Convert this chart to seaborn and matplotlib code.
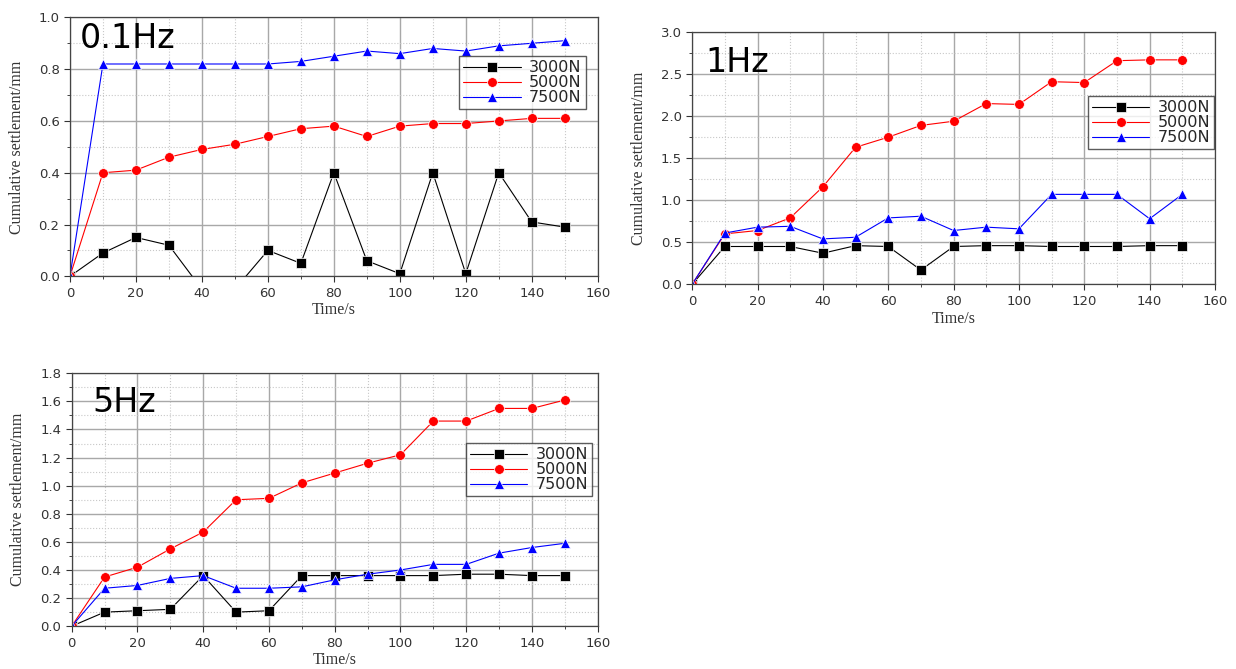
import numpy as np
import pandas as pd
import matplotlib
matplotlib.use("Agg")
import matplotlib.pyplot as plt
from matplotlib.ticker import MultipleLocator, FormatStrFormatter
import seaborn as sns

time_s = [0, 10, 20, 30, 40, 50, 60, 70, 80, 90, 100, 110, 120, 130, 140, 150]
loads = ["3000N", "5000N", "7500N"]

hz01_3000 = [0, 0.09, 0.15, 0.12, -0.05, -0.05, 0.10, 0.05, 0.40, 0.06, 0.01, 0.40, 0.01, 0.40, 0.21, 0.19]
hz01_5000 = [0, 0.40, 0.41, 0.46, 0.49, 0.51, 0.54, 0.57, 0.58, 0.54, 0.58, 0.59, 0.59, 0.60, 0.61, 0.61]
hz01_7500 = [0, 0.82, 0.82, 0.82, 0.82, 0.82, 0.82, 0.83, 0.85, 0.87, 0.86, 0.88, 0.87, 0.89, 0.90, 0.91]

hz1_3000 = [0, 0.45, 0.45, 0.45, 0.37, 0.46, 0.45, 0.17, 0.45, 0.46, 0.46, 0.45, 0.45, 0.45, 0.46, 0.46]
hz1_5000 = [0, 0.60, 0.64, 0.79, 1.16, 1.63, 1.75, 1.89, 1.94, 2.15, 2.14, 2.41, 2.40, 2.66, 2.67, 2.67]
hz1_7500 = [0, 0.61, 0.68, 0.69, 0.54, 0.56, 0.79, 0.81, 0.64, 0.68, 0.66, 1.07, 1.07, 1.07, 0.78, 1.07]

hz5_3000 = [0, 0.10, 0.11, 0.12, 0.36, 0.10, 0.11, 0.36, 0.36, 0.36, 0.36, 0.36, 0.37, 0.37, 0.36, 0.36]
hz5_5000 = [0, 0.35, 0.42, 0.55, 0.67, 0.90, 0.91, 1.02, 1.09, 1.16, 1.22, 1.46, 1.46, 1.55, 1.55, 1.61]
hz5_7500 = [0, 0.27, 0.29, 0.34, 0.36, 0.27, 0.27, 0.28, 0.33, 0.37, 0.40, 0.44, 0.44, 0.52, 0.56, 0.59]

panel_labels = ["0.1Hz", "1Hz", "5Hz"]

sns.set_style("white")
plt.rcParams["font.family"] = ["DejaVu Sans"]

palette = {"3000N": "black", "5000N": "red", "7500N": "blue"}
markers = {"3000N": "s", "5000N": "o", "7500N": "^"}

fig = plt.figure(figsize=(12.36, 6.69), dpi=100)

panels = [
    dict(series=[hz01_3000, hz01_5000, hz01_7500], label=panel_labels[0],
         rect=[0.0566, 0.587, 0.427, 0.387], ylim=(0, 1.0), ymaj=0.2, ymin=0.1,
         leg=(0.977, 0.849), lab=(0.019, 0.880)),
    dict(series=[hz1_3000, hz1_5000, hz1_7500], label=panel_labels[1],
         rect=[0.560, 0.575, 0.423, 0.377], ylim=(0, 3.0), ymaj=0.5, ymin=0.25,
         leg=(0.998, 0.746), lab=(0.025, 0.841)),
    dict(series=[hz5_3000, hz5_5000, hz5_7500], label=panel_labels[2],
         rect=[0.058, 0.064, 0.4256, 0.378], ylim=(0, 1.8), ymaj=0.2, ymin=0.1,
         leg=(0.989, 0.723), lab=(0.04, 0.846)),
]

for p in panels:
    ax = fig.add_axes(p["rect"])
    df = pd.DataFrame({
        "Time": time_s * 3,
        "Settlement": p["series"][0] + p["series"][1] + p["series"][2],
        "Load": [l for l in loads for _ in time_s],
    })
    sns.lineplot(data=df, x="Time", y="Settlement", hue="Load", style="Load",
                 palette=palette, markers=markers, dashes=False, ax=ax,
                 linewidth=0.8, markersize=7, markeredgewidth=0.5,
                 sort=False, estimator=None)
    ax.set_xlim(0, 160)
    ax.set_ylim(*p["ylim"])
    ax.xaxis.set_major_locator(MultipleLocator(20))
    ax.xaxis.set_minor_locator(MultipleLocator(10))
    ax.yaxis.set_major_locator(MultipleLocator(p["ymaj"]))
    ax.yaxis.set_minor_locator(MultipleLocator(p["ymin"]))
    ax.yaxis.set_major_formatter(FormatStrFormatter("%.1f"))
    ax.grid(which="major", color="#a8a8a8", linewidth=1.0, linestyle="-")
    ax.grid(which="minor", color="#c8c8c8", linewidth=0.8, linestyle=":")
    ax.set_axisbelow(True)
    ax.tick_params(which="major", direction="out", length=4, width=0.8,
                   labelsize=9.5, colors="#333333", left=True, bottom=True)
    ax.tick_params(which="minor", direction="out", length=2.5, width=0.6,
                   left=True, bottom=True)
    for s in ax.spines.values():
        s.set_color("#444444")
        s.set_linewidth(0.9)
    ax.set_xlabel("Time/s", family=["Liberation Serif"], fontsize=11.5,
                  color="#333333", labelpad=2)
    ax.set_ylabel("Cumulative settlement/mm", family=["Liberation Serif"],
                  fontsize=11.5, color="#333333", labelpad=10)
    ax.text(p["lab"][0], p["lab"][1], p["label"], transform=ax.transAxes,
            fontsize=24, va="baseline", ha="left", color="black")
    leg = ax.legend(loc="upper right", bbox_to_anchor=p["leg"], fontsize=11.5,
                    frameon=True, fancybox=False, edgecolor="#333333",
                    borderpad=0.25, labelspacing=0.0, handlelength=3.6,
                    handletextpad=0.5, borderaxespad=0.0)
    leg.get_frame().set_linewidth(1.0)

fig.savefig("out.png", dpi=100)
